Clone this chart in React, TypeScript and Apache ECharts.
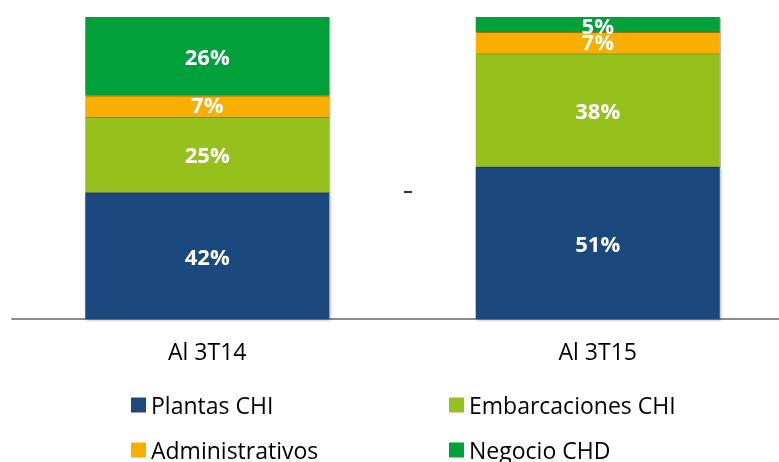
import React, { useEffect, useRef } from "react";
import * as echarts from "echarts";

const categories = ["Al 3T14", "Al 3T15"];
const seriesNames = ["Plantas CHI", "Embarcaciones CHI", "Administrativos", "Negocio CHD"];
const plantas = [42, 50.5];
const embarcaciones = [25, 37.5];
const administrativos = [7, 7];
const negocio = [26, 5];
const colors = ["#1F497D", "#96C11F", "#F9AE00", "#00A03A"];

const FONT = "'Open Sans', 'Noto Sans', sans-serif";

export default function App() {
  const ref = useRef<HTMLDivElement>(null);
  useEffect(() => {
    if (!ref.current) return;
    const chart = echarts.init(ref.current, undefined, { renderer: "svg" });
    const values = [plantas, embarcaciones, administrativos, negocio];
    const labelOffsets: [number, number][] = [[0, 0], [0, 0], [0, -2], [0, 0]];
    const legendBase = {
      top: 393,
      height: 69,
      padding: 0,
      orient: "vertical",
      icon: "rect",
      itemWidth: 15,
      itemHeight: 15,
      itemGap: 21,
      textStyle: { color: "#000", fontSize: 23, fontFamily: FONT, lineHeight: 24 },
    };
    chart.setOption({
      animation: false,
      grid: { left: 12, top: 17, width: 781, height: 302, containLabel: false, outerBoundsMode: "none" },
      xAxis: {
        type: "category",
        data: categories,
        axisLine: { show: true, lineStyle: { color: "#8C8C8C", width: 2 } },
        axisTick: { show: false },
        axisLabel: { color: "#000", fontSize: 23, fontFamily: FONT, margin: 20 },
      },
      yAxis: { type: "value", min: 0, max: 100, show: false, splitLine: { show: false } },
      legend: [
        { ...legendBase, left: 131, data: [seriesNames[0], seriesNames[2]] },
        { ...legendBase, left: 449, data: [seriesNames[1], seriesNames[3]] },
      ],
      graphic: [
        { type: "rect", left: 404, top: 191, shape: { width: 8, height: 2 }, style: { fill: "#333" } },
      ],
      series: seriesNames.map((name, i) => ({
        name,
        type: "bar",
        stack: "total",
        barWidth: 244,
        data: values[i],
        itemStyle: {
          color: colors[i],
          shadowBlur: i === 0 ? 3 : 0,
          shadowColor: "rgba(0,0,0,0.35)",
          shadowOffsetX: 1,
          shadowOffsetY: 1,
        },
        label: {
          show: true,
          position: "inside",
          color: "#fff",
          fontWeight: "bold",
          fontSize: 22,
          fontFamily: FONT,
          offset: labelOffsets[i],
          formatter: (p: any) => Math.round(p.value) + "%",
        },
      })),
    });
    return () => chart.dispose();
  }, []);
  return <div ref={ref} style={{ position: "fixed", left: 0, top: 0, width: 779, height: 462 }} />;
}
